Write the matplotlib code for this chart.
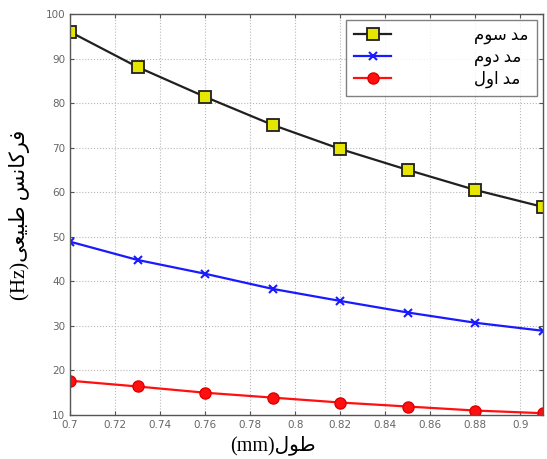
import matplotlib
matplotlib.use("Agg")
import matplotlib.pyplot as plt

# ---- data ----
length_mm = [0.70, 0.73, 0.76, 0.79, 0.82, 0.85, 0.88, 0.91]
mode3 = [96.0, 88.1, 81.4, 75.1, 69.7, 65.0, 60.5, 56.7]
mode2 = [48.9, 44.8, 41.7, 38.3, 35.6, 33.0, 30.7, 28.9]
mode1 = [17.7, 16.4, 15.0, 13.9, 12.8, 11.9, 11.0, 10.4]
series_labels = ["مد سوم", "مد دوم", "مد اول"]
x_label_fa = "طول"
x_label_unit = "(mm)"
y_label_fa = "فرکانس طبیعی"
y_label_unit = "(Hz)"
x_ticks = [0.70, 0.72, 0.74, 0.76, 0.78, 0.80, 0.82, 0.84, 0.86, 0.88, 0.90]
x_tick_labels = ["0.7", "0.72", "0.74", "0.76", "0.78", "0.8", "0.82", "0.84", "0.86", "0.88", "0.9"]
y_ticks = [10, 20, 30, 40, 50, 60, 70, 80, 90, 100]

# ---- minimal Persian shaping (presentation forms) ----
FORMS = {
    'م': ('\uFEE1', '\uFEE2', '\uFEE3', '\uFEE4'),
    'د': ('\uFEA9', '\uFEAA', None, None),
    'س': ('\uFEB1', '\uFEB2', '\uFEB3', '\uFEB4'),
    'و': ('\uFEED', '\uFEEE', None, None),
    'ا': ('\uFE8D', '\uFE8E', None, None),
    'ل': ('\uFEDD', '\uFEDE', '\uFEDF', '\uFEE0'),
    'ف': ('\uFED1', '\uFED2', '\uFED3', '\uFED4'),
    'ر': ('\uFEAD', '\uFEAE', None, None),
    'ک': ('\uFB8E', '\uFB8F', '\uFB90', '\uFB91'),
    'ن': ('\uFEE5', '\uFEE6', '\uFEE7', '\uFEE8'),
    'ط': ('\uFEC1', '\uFEC2', '\uFEC3', '\uFEC4'),
    'ب': ('\uFE8F', '\uFE90', '\uFE91', '\uFE92'),
    'ی': ('\uFBFC', '\uFBFD', '\uFBFE', '\uFBFF'),
    'ع': ('\uFEC9', '\uFECA', '\uFECB', '\uFECC'),
}


def dual(c):
    return c in FORMS and FORMS[c][2] is not None


def shape(text):
    out = []
    n = len(text)
    for i, c in enumerate(text):
        if c not in FORMS:
            out.append(c)
            continue
        prev = text[i - 1] if i > 0 else ''
        nxt = text[i + 1] if i < n - 1 else ''
        join_prev = dual(prev)
        join_next = dual(c) and nxt in FORMS
        iso, fin, ini, med = FORMS[c]
        if join_prev and join_next:
            out.append(med)
        elif join_prev:
            out.append(fin)
        elif join_next:
            out.append(ini)
        else:
            out.append(iso)
    return ''.join(reversed(out))


fa_font = ['Liberation Serif', 'DejaVu Sans']
plt.rcParams['font.family'] = ['DejaVu Sans']

fig = plt.figure(figsize=(5.47, 4.59), dpi=100)
ax = fig.add_axes([70 / 547, 1 - 415 / 459, (543 - 70) / 547, (415 - 14) / 459])

ax.plot(length_mm, mode3, color='#202020', lw=1.6, marker='s', ms=8,
        mfc='#e6e600', mec='#202020', mew=1.3, label=shape(series_labels[0]))
ax.plot(length_mm, mode2, color='#1a1aff', lw=1.6, marker='x', ms=6,
        mew=1.5, label=shape(series_labels[1]))
ax.plot(length_mm, mode1, color='#ff1010', lw=1.6, marker='o', ms=8,
        mfc='#ff1010', mec='#e00000', label=shape(series_labels[2]))

ax.set_xlim(0.70, 0.91)
ax.set_ylim(10, 100)
ax.set_xticks(x_ticks)
ax.set_xticklabels(x_tick_labels)
ax.set_yticks(y_ticks)
ax.tick_params(direction='in', labelsize=7.5, colors='#555555', length=3,
               top=True, right=True)
for lab in ax.get_xticklabels() + ax.get_yticklabels():
    lab.set_color('#666666')
ax.grid(True, linestyle=':', color='#b8b8b8', lw=0.8)
for sp in ax.spines.values():
    sp.set_color('#555555')
    sp.set_linewidth(1.0)

ax.set_xlabel(x_label_unit + shape(x_label_fa), family=fa_font, fontsize=14.5)
ax.xaxis.set_label_coords(0.43, -0.052)
ax.set_ylabel(y_label_unit + shape(y_label_fa), family=fa_font, fontsize=15)
ax.yaxis.set_label_coords(-0.085, 0.50)

leg = ax.legend(loc='upper right', prop={'family': fa_font, 'size': 12},
                frameon=True, fancybox=False, edgecolor='#606060',
                handlelength=2.2, handletextpad=5.0, borderaxespad=0.35,
                labelspacing=0.3, borderpad=0.5)
leg.get_frame().set_linewidth(1.0)
for t in leg.get_texts():
    t.set_ha('right')
leg._legend_box.align = 'right'

fig.savefig('out.png', dpi=100)
